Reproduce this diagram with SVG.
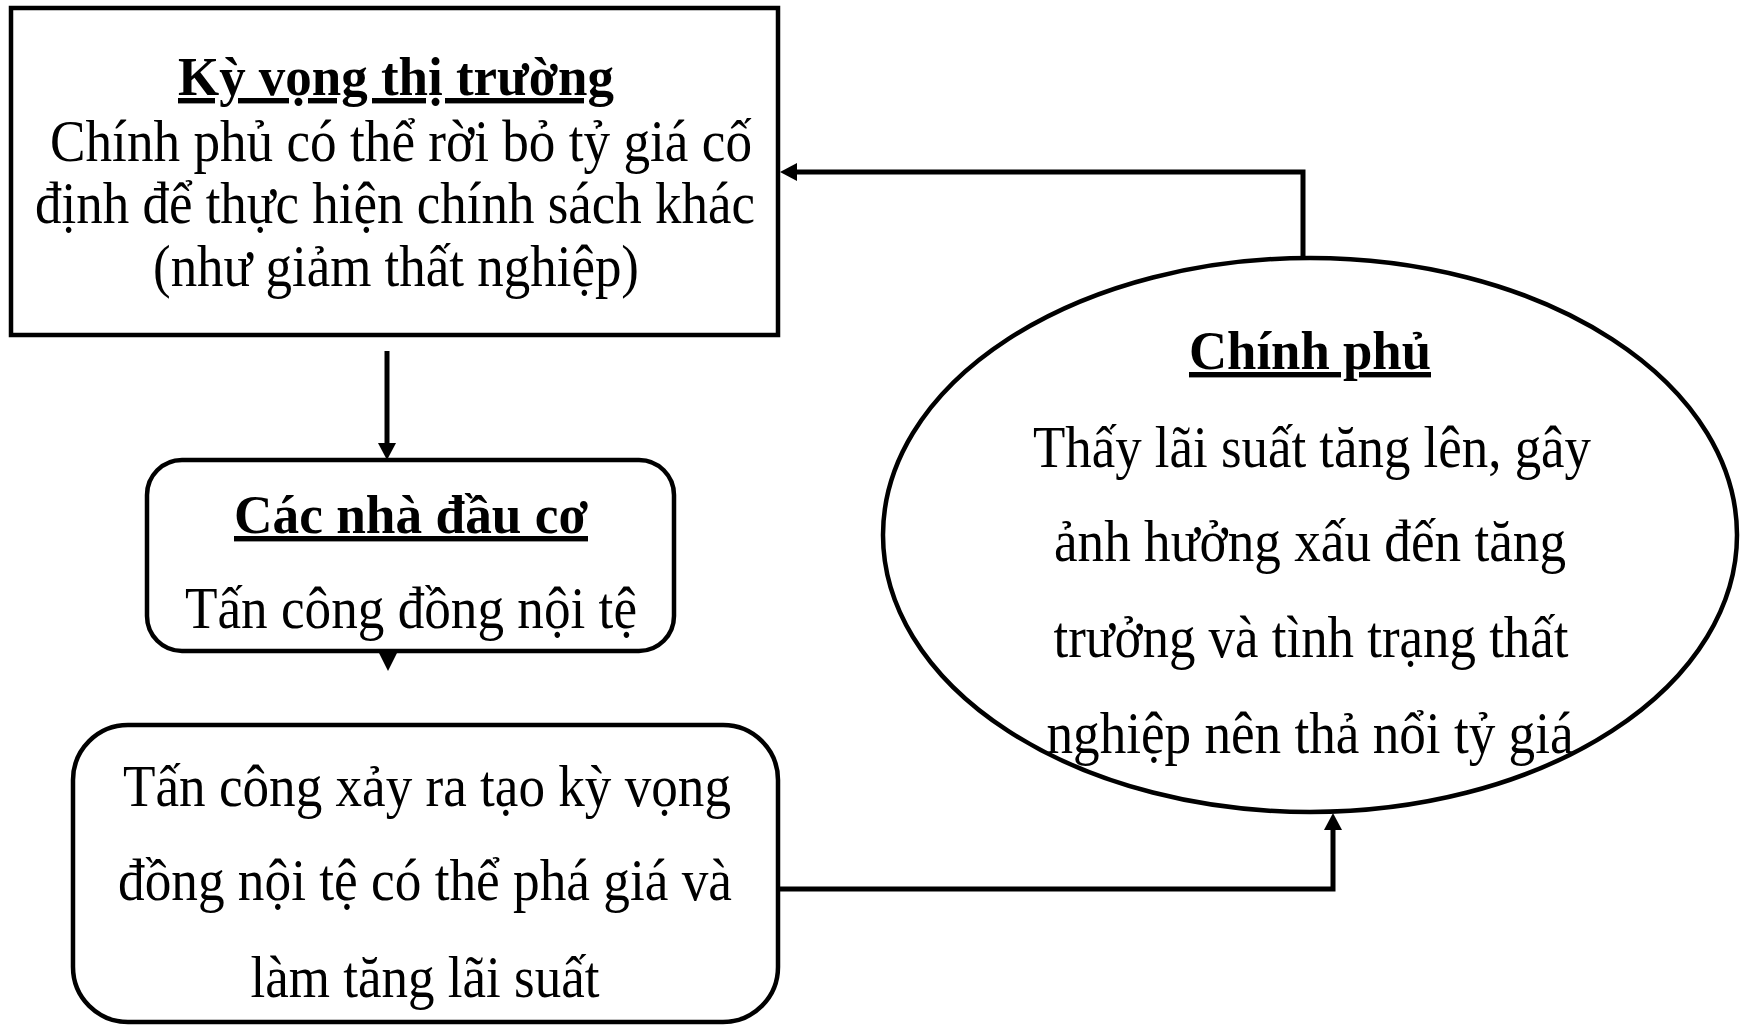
<svg xmlns="http://www.w3.org/2000/svg" width="1742" height="1027" viewBox="0 0 1742 1027">
<defs>
<marker id="ah" markerWidth="17" markerHeight="18" viewBox="0 0 17 18" refX="0" refY="9" orient="auto" markerUnits="userSpaceOnUse"><path d="M0,0 L17,9 L0,18 Z" fill="#000"/></marker>
</defs>
<style>
.shape{fill:#fff;stroke:#000;stroke-width:4.5}
.t{font-family:"Liberation Serif","Times New Roman",serif;font-size:59px;fill:#000;text-anchor:middle}
.b{font-weight:bold;font-size:54px;text-decoration:underline}
.edge{fill:none;stroke:#000;stroke-width:5}
</style>
<rect width="1742" height="1027" fill="#fff"/>
<g id="connectors">
<path class="edge" d="M387,351 V443" marker-end="url(#ah)"/>
<polygon points="379,653 397,653 388,671" fill="#000"/>
<path class="edge" d="M778,889 H1333 V830" marker-end="url(#ah)"/>
<path class="edge" d="M1303,258 V172 H797" marker-end="url(#ah)"/>
</g>
<g id="ky-vong">
<rect class="shape" x="11" y="8" width="767" height="327"/>
<text class="t b" x="396" y="95" textLength="436" lengthAdjust="spacingAndGlyphs">Kỳ vọng thị trường</text>
<text class="t" x="401" y="161" textLength="702" lengthAdjust="spacingAndGlyphs">Chính phủ có thể rời bỏ tỷ giá cố</text>
<text class="t" x="395" y="223" textLength="720" lengthAdjust="spacingAndGlyphs">định để thực hiện chính sách khác</text>
<text class="t" x="396" y="286" textLength="486" lengthAdjust="spacingAndGlyphs">(như giảm thất nghiệp)</text>
</g>
<g id="nha-dau-co">
<rect class="shape" x="147" y="460" width="527" height="191" rx="35"/>
<text class="t b" x="411" y="533" textLength="354" lengthAdjust="spacingAndGlyphs">Các nhà đầu cơ</text>
<text class="t" x="411" y="628" textLength="452" lengthAdjust="spacingAndGlyphs">Tấn công đồng nội tệ</text>
</g>
<g id="tan-cong">
<rect class="shape" x="73" y="725" width="705" height="297" rx="55"/>
<text class="t" x="427" y="806" textLength="608" lengthAdjust="spacingAndGlyphs">Tấn công xảy ra tạo kỳ vọng</text>
<text class="t" x="425" y="900" textLength="614" lengthAdjust="spacingAndGlyphs">đồng nội tệ có thể phá giá và</text>
<text class="t" x="425" y="997" textLength="349" lengthAdjust="spacingAndGlyphs">làm tăng lãi suất</text>
</g>
<g id="chinh-phu">
<ellipse class="shape" cx="1310" cy="535" rx="427" ry="277"/>
<text class="t b" x="1310" y="369" textLength="242" lengthAdjust="spacingAndGlyphs">Chính phủ</text>
<text class="t" x="1312" y="467" textLength="558" lengthAdjust="spacingAndGlyphs">Thấy lãi suất tăng lên, gây</text>
<text class="t" x="1310" y="561" textLength="512" lengthAdjust="spacingAndGlyphs">ảnh hưởng xấu đến tăng</text>
<text class="t" x="1311" y="657" textLength="515" lengthAdjust="spacingAndGlyphs">trưởng và tình trạng thất</text>
<text class="t" x="1310" y="753" textLength="527" lengthAdjust="spacingAndGlyphs">nghiệp nên thả nổi tỷ giá</text>
</g>
</svg>
